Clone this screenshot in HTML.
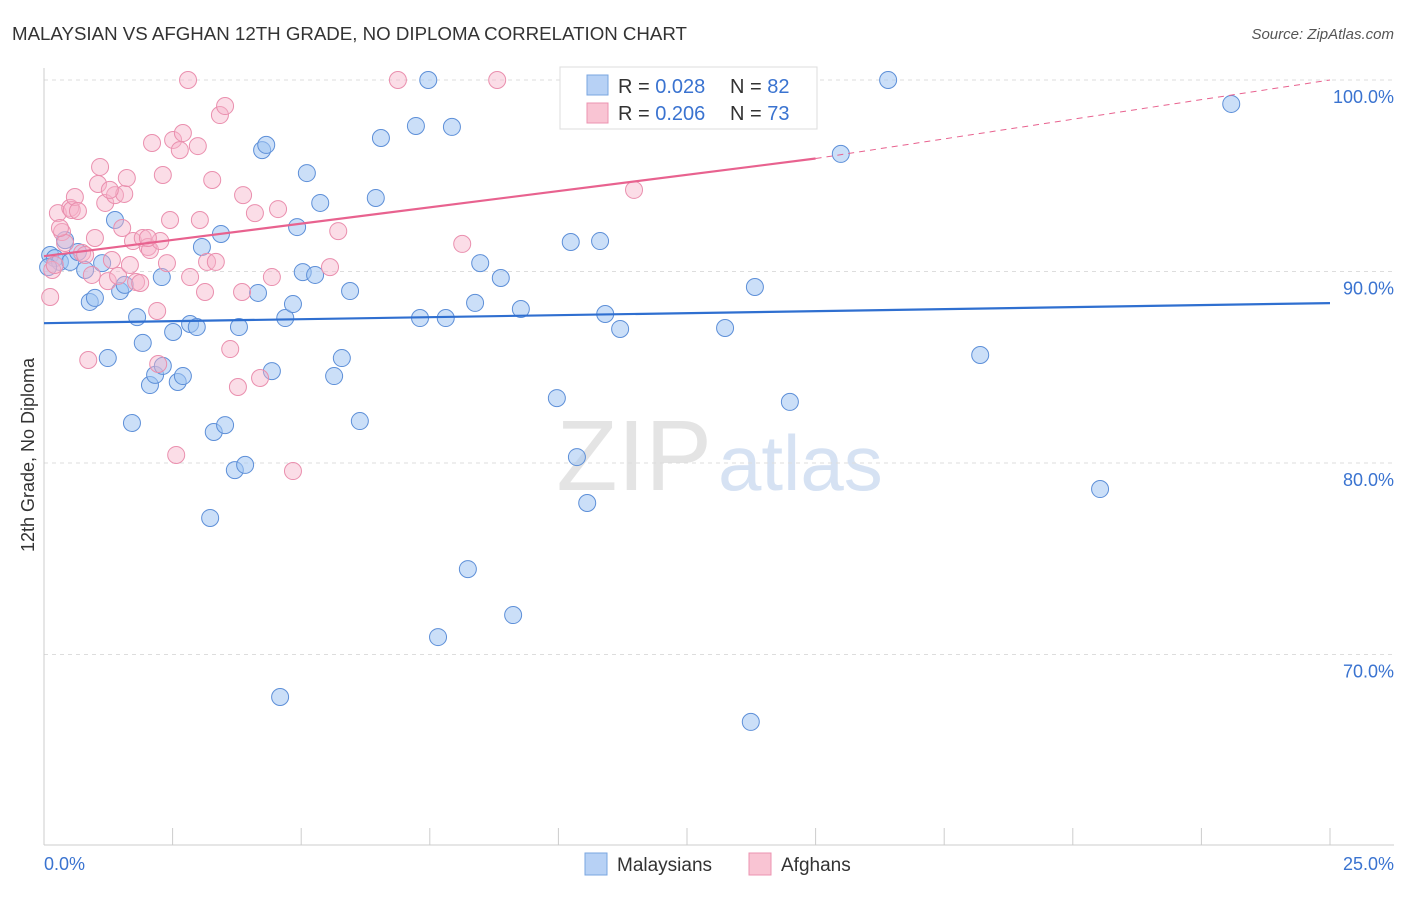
<!DOCTYPE html>
<html><head><meta charset="utf-8"><style>
body{margin:0;background:#fff;font-family:"Liberation Sans",sans-serif;}
svg text{font-family:"Liberation Sans",sans-serif;}
</style></head><body>
<svg id="c" width="1406" height="892">
<text x="12" y="40" font-size="18.7" fill="#333">MALAYSIAN VS AFGHAN 12TH GRADE, NO DIPLOMA CORRELATION CHART</text>
<text x="1394" y="39" font-size="15" fill="#555" text-anchor="end" font-style="italic">Source: ZipAtlas.com</text>
<text x="712" y="490" font-size="100" fill="#e4e4e4" text-anchor="end" font-family="Liberation Serif">ZIP</text>
<text x="718" y="490" font-size="78" fill="#d6e2f3">atlas</text>
<text transform="translate(34,455) rotate(-90)" font-size="18" fill="#333" text-anchor="middle">12th Grade, No Diploma</text>
<g id="grid"></g><g id="pts"></g><g id="lines"></g>
<g>
<rect x="560" y="67" width="257" height="62" fill="#fff" stroke="#ddd"/>
<rect x="587" y="75" width="21" height="20" fill="#b7d1f5" stroke="#7aa6e0"/>
<rect x="587" y="103" width="21" height="20" fill="#f9c4d3" stroke="#ec93b0"/>
<text x="618" y="93" font-size="20" fill="#333">R = <tspan fill="#3a73d0">0.028</tspan></text>
<text x="730" y="93" font-size="20" fill="#333">N = <tspan fill="#3a73d0">82</tspan></text>
<text x="618" y="120" font-size="20" fill="#333">R = <tspan fill="#3a73d0">0.206</tspan></text>
<text x="730" y="120" font-size="20" fill="#333">N = <tspan fill="#3a73d0">73</tspan></text>
</g>
<g>
<rect x="585" y="853" width="22" height="22" fill="#b7d1f5" stroke="#7aa6e0"/>
<text x="617" y="871" font-size="19" fill="#333">Malaysians</text>
<rect x="749" y="853" width="22" height="22" fill="#f9c4d3" stroke="#ec93b0"/>
<text x="781" y="871" font-size="19" fill="#333">Afghans</text>
</g>
</svg>
<script>
const bluePx=[[50,255],[55,258],[60,262],[65,240],[70,262],[78,252],[85,270],[90,302],[95,298],[102,263],[108,358],[115,220],[120,291],[125,285],[132,423],[137,317],[143,343],[150,385],[155,375],[163,366],[162,277],[173,332],[178,382],[183,376],[190,324],[197,327],[202,247],[210,518],[214,432],[221,234],[225,425],[235,470],[239,327],[245,465],[258,293],[262,150],[266,145],[272,371],[280,697],[285,318],[293,304],[297,227],[303,272],[307,173],[315,275],[320,203],[334,376],[342,358],[350,291],[360,421],[376,198],[381,138],[416,126],[420,318],[428,80],[438,637],[446,318],[452,127],[468,569],[475,303],[480,263],[501,278],[513,615],[521,309],[557,398],[571,242],[577,457],[587,503],[600,241],[605,314],[620,329],[637,80],[725,328],[751,722],[755,287],[790,402],[841,154],[888,80],[980,355],[1100,489],[1231,104],[770,113],[48,267]];
const pinkPx=[[50,297],[52,270],[55,265],[58,213],[62,232],[65,243],[70,208],[72,210],[75,197],[78,211],[82,253],[88,360],[92,275],[95,238],[98,184],[100,167],[105,203],[108,281],[112,260],[115,195],[118,276],[122,228],[124,194],[127,178],[130,265],[133,241],[136,282],[140,283],[143,238],[148,247],[150,250],[152,143],[157,311],[158,364],[160,241],[163,175],[167,263],[170,220],[173,140],[176,455],[180,150],[183,133],[188,80],[190,277],[198,146],[200,220],[205,292],[207,262],[212,180],[216,262],[220,115],[225,106],[230,349],[238,387],[242,292],[243,195],[255,213],[260,378],[272,277],[278,209],[293,471],[330,267],[338,231],[398,80],[462,244],[497,80],[580,110],[634,190],[60,228],[110,190],[148,238],[85,255]];
const malX=bluePx.map(p=>+((p[0]-44)/1286*25).toFixed(2));
const malY=bluePx.map(p=>+(100-(p[1]-80)/191.5*10).toFixed(2));
const afgX=pinkPx.map(p=>+((p[0]-44)/1286*25).toFixed(2));
const afgY=pinkPx.map(p=>+(100-(p[1]-80)/191.5*10).toFixed(2));
const yTicks=[100,90,80,70];
const yLabels=["100.0%","90.0%","80.0%","70.0%"];
const malTrend=[87.3,88.35];
const afgTrend=[90.8,95.9,100];
const NS="http://www.w3.org/2000/svg";
const X=v=>44+v/25*1286, Y=v=>80+(100-v)*19.15;
function mk(t,a,p){const e=document.createElementNS(NS,t);for(const k in a)e.setAttribute(k,a[k]);p.appendChild(e);return e;}
const g=document.getElementById('grid');
yTicks.forEach((t,i)=>{
 const l=mk('line',{x1:44,x2:1394,y1:Y(t),y2:Y(t),stroke:'#ddd','stroke-dasharray':'4,4'},g);
 
 
 const tx=mk('text',{x:1394,y:Y(t)+23,'font-size':18,fill:'#3a73d0','text-anchor':'end'},g);tx.textContent=yLabels[i];
 
 
});
mk('line',{x1:44,x2:44,y1:68,y2:845,stroke:'#ccc'},g);
mk('line',{x1:44,x2:1394,y1:845,y2:845,stroke:'#ccc'},g);
for(let i=0;i<=10;i++){mk('line',{x1:X(i*2.5),x2:X(i*2.5),y1:828,y2:845,stroke:'#ccc'},g);}
let t1=mk('text',{x:44,y:870,'font-size':18,fill:'#3a73d0'},g);t1.textContent="0.0%";


let t2=mk('text',{x:1394,y:870,'font-size':18,fill:'#3a73d0','text-anchor':'end'},g);t2.textContent="25.0%";


const P=document.getElementById('pts');
malX.forEach((x,i)=>{const c=mk('circle',{cx:X(x),cy:Y(malY[i]),r:8.5,fill:'rgba(160,196,242,0.55)',stroke:'#5d8fd8','stroke-width':1},P);
 
 });
afgX.forEach((x,i)=>{const c=mk('circle',{cx:X(x),cy:Y(afgY[i]),r:8.5,fill:'rgba(246,180,202,0.45)',stroke:'#ea8fae','stroke-width':1},P);
 
 });
const L=document.getElementById('lines');
let b=mk('line',{x1:X(0),y1:Y(malTrend[0]),x2:X(25),y2:Y(malTrend[1]),stroke:'#2f6fd0','stroke-width':2.2},L);


let p=mk('line',{x1:X(0),y1:Y(afgTrend[0]),x2:X(15),y2:Y(afgTrend[1]),stroke:'#e8628f','stroke-width':2.2},L);


let d=mk('line',{x1:X(15),y1:Y(afgTrend[1]),x2:X(25),y2:Y(afgTrend[2]),stroke:'#e8628f','stroke-width':1,'stroke-dasharray':'6,5'},L);


</script>
</body></html>
